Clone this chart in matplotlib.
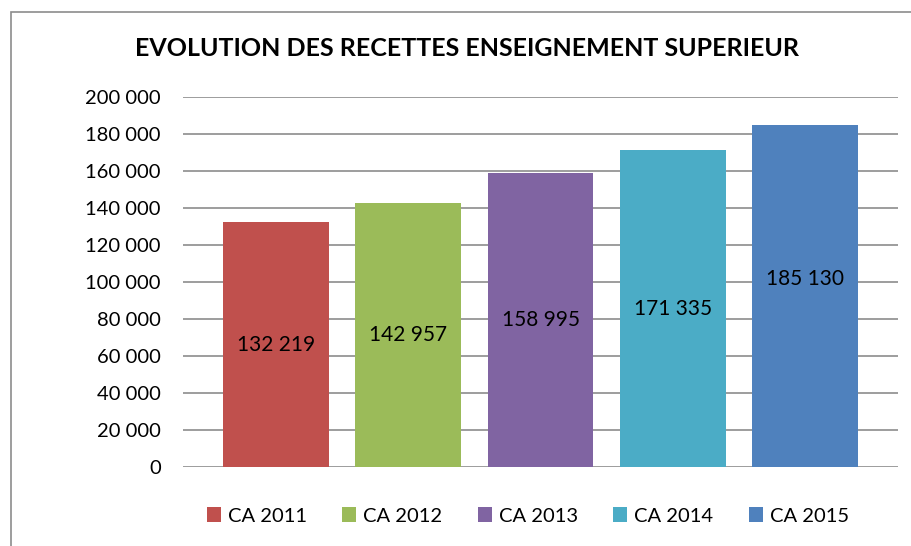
import matplotlib.pyplot as plt
from matplotlib.patches import Rectangle, Patch
from matplotlib.ticker import FuncFormatter

plt.rcParams['font.family'] = ['Lato', 'DejaVu Sans']

series = ['CA 2011', 'CA 2012', 'CA 2013', 'CA 2014', 'CA 2015']
values = [132219, 142957, 158995, 171335, 185130]
colors = ['#C0504D', '#9BBB59', '#8064A2', '#4BACC6', '#4F81BD']

def fmt(v, pos=None):
    return '{:,}'.format(int(v)).replace(',', ' ')

fig = plt.figure(figsize=(9.12, 5.46), dpi=100)
# outer chart border (runs off the right and bottom edges)
fig.patches.append(Rectangle((11 / 912, -0.05), 1.1, (546 - 12) / 546 + 0.05,
                             transform=fig.transFigure, fill=False,
                             edgecolor='#8c8c8c', linewidth=1.2))

ax = fig.add_axes([183 / 912, (546 - 467) / 546, (898 - 183) / 912, (467 - 97) / 546])
xs = range(len(values))
ax.bar(xs, values, width=0.8, color=colors, zorder=2)
for x, v in zip(xs, values):
    y = v / 2
    if x == len(values) - 1:
        y += 9000  # last label sits a bit higher in the original
    ax.text(x, y, fmt(v), ha='center', va='center', fontsize=15, color='black', zorder=3)

ax.set_xlim(-0.7, 4.7)
ax.set_ylim(0, 200000)
ax.set_yticks(range(0, 200001, 20000))
ax.yaxis.set_major_formatter(FuncFormatter(fmt))
ax.set_xticks([])
ax.tick_params(axis='y', length=0, pad=16, labelsize=14.5)
ax.grid(axis='y', color='#8c8c8c', linewidth=1.2, zorder=0)
for s in ax.spines.values():
    s.set_visible(False)

fig.text(467 / 912, 1 - 48 / 546, 'EVOLUTION DES RECETTES ENSEIGNEMENT SUPERIEUR',
         ha='center', va='center', fontsize=18, fontweight='bold')

handles = [Patch(facecolor=c) for c in colors]
fig.legend(handles, series, loc='center', bbox_to_anchor=(528 / 912, 1 - 516 / 546),
           ncol=5, frameon=False, fontsize=14.5, handlelength=0.7, handleheight=0.7,
           columnspacing=1.75, handletextpad=0.35)

fig.savefig('out.png', dpi=100)
